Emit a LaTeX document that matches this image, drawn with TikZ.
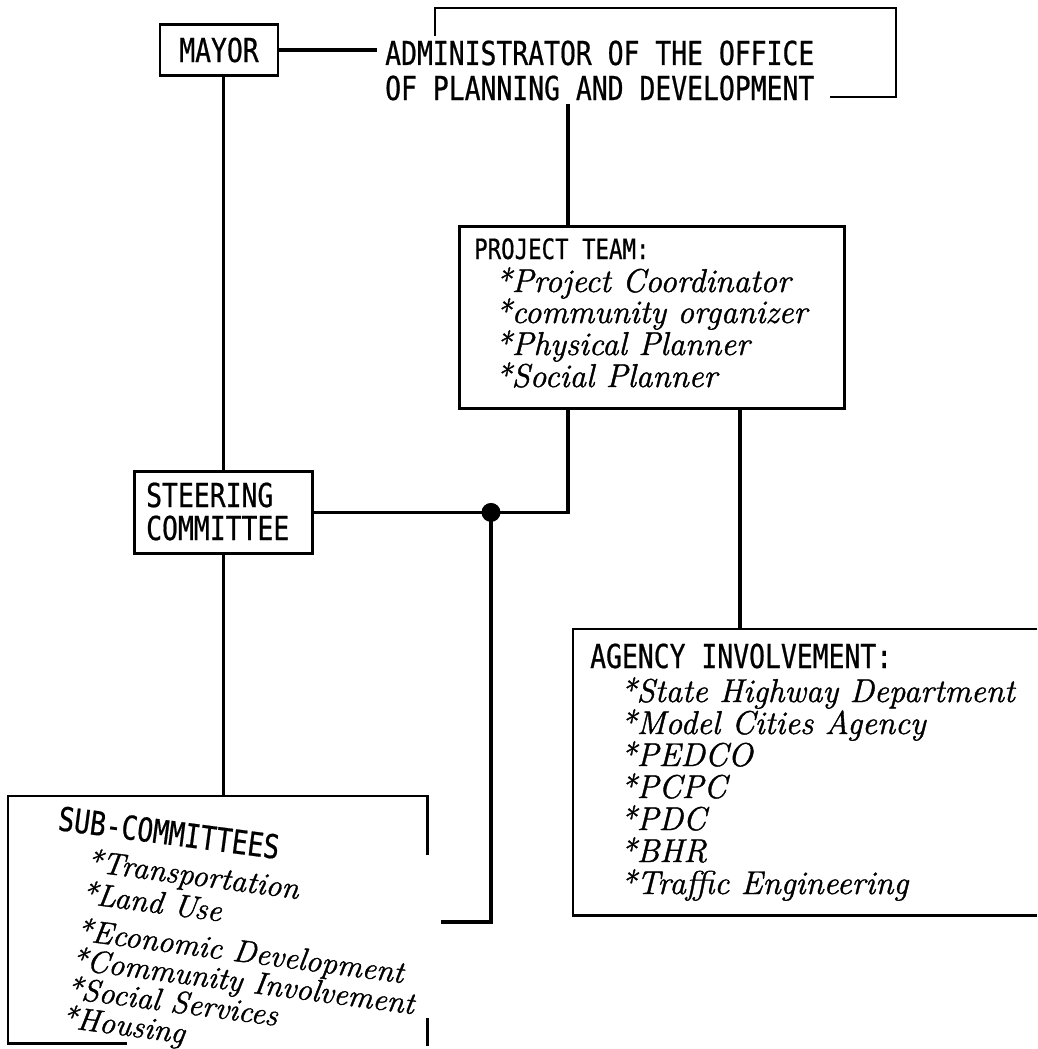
\documentclass[tikz,border=0pt]{standalone}
\usepackage{fontspec}
\newfontfamily\capf[FakeStretch=0.8,FakeBold=0.6]{DejaVu Sans Mono}
\newfontfamily\itf[FakeBold=1.2]{Latin Modern Roman}
\begin{document}
\begin{tikzpicture}[x=1pt,y=-1pt,
  boxn/.style={draw, line width=2.8pt, inner sep=0pt, anchor=north west, rectangle},
  frame/.style={draw=none, inner sep=0pt, anchor=north west, rectangle},
  boxline/.style={line width=2.8pt},
  caps/.style={font=\capf\fontsize{33}{36}\selectfont, inner sep=0pt, anchor=base west},
  capsm/.style={font=\capf\fontsize{28}{30}\selectfont, inner sep=0pt, anchor=base west},
  itm/.style={font=\itf\fontsize{33}{36}\selectfont\itshape, inner sep=0pt, anchor=base west},
  itms/.style={font=\itf\fontsize{31.5}{34}\selectfont\itshape, inner sep=0pt, anchor=base west},
  conn/.style={line width=3.2pt}]
\useasboundingbox (0,0) rectangle (1037,1049);

% MAYOR
\node[boxn, anchor=center, minimum width=118pt, minimum height=51pt,
      font=\capf\fontsize{33}{36}\selectfont] (mayor) at (219,50) {MAYOR};

% Administrator
\node[caps] (adm1) at (385,65) {ADMINISTRATOR OF THE OFFICE};
\node[caps] (adm2) at (385,100) {OF PLANNING AND DEVELOPMENT};
\draw[boxline] (435,36) -- (435,8) -- (896,8) -- (896,97) -- (830,97);

% Project team
\node[boxn, minimum width=385pt, minimum height=182pt] (pt) at (458,225) {};
\node[capsm] (pth) at (474,259) {PROJECT TEAM:};
\node[itm] (pt1) at (495,292) {*Project Coordinator};
\node[itm] (pt2) at (495,323) {*community organizer};
\node[itm] (pt3) at (495,355) {*Physical Planner};
\node[itm] (pt4) at (495,387) {*Social Planner};

% Steering committee
\node[boxn, minimum width=178pt, minimum height=82pt] (steer) at (133,470) {};
\node[caps] (st1) at (146,507) {STEERING};
\node[caps] (st2) at (146,540) {COMMITTEE};

% Agency involvement (open at right)
\node[frame, minimum width=464pt, minimum height=286pt] (agency) at (573,629) {};
\draw[boxline] (agency.north east) -- (agency.north west) -- (agency.south west) -- (agency.south east);
\node[caps] (agh) at (590,668) {AGENCY INVOLVEMENT:};
\node[itm] (ag1) at (620,702) {*State Highway Department};
\node[itm] (ag2) at (620,734) {*Model Cities Agency};
\node[itm] (ag3) at (620,766) {*PEDCO};
\node[itm] (ag4) at (620,798) {*PCPC};
\node[itm] (ag5) at (620,830) {*PDC};
\node[itm] (ag6) at (620,862) {*BHR};
\node[itm] (ag7) at (620,894) {*Traffic Engineering};

% Sub-committees (partly open frame)
\node[frame, minimum width=419pt, minimum height=247pt] (sub) at (8,796) {};
\draw[boxline] (sub.north east) ++(0,59) -- (sub.north east) -- (sub.north west) -- (sub.south west) -- ++(119,0);
\draw[boxline] (sub.south east) ++(0,-25) -- ++(0,28);
\node[caps, rotate=-7.5] (s0) at (57,830) {SUB-COMMITTEES};
\node[itms, rotate=-7.5] (s1) at (85,871) {*Transportation};
\node[itms, rotate=-7.5] (s2) at (80,903) {*Land Use};
\node[itms, rotate=-7.5] (s3) at (75,940) {*Economic Development};
\node[itms, rotate=-7.5] (s4) at (70,969) {*Community Involvement};
\node[itms, rotate=-7.5] (s5) at (65,998) {*Social Services};
\node[itms, rotate=-7.5] (s6) at (60,1027) {*Housing};

% connectors
\coordinate (ptx) at (568,0);
\coordinate (dotx) at (491,0);
\coordinate (agx) at (740,0);
\coordinate (subend) at (441,922);
\draw[conn, shorten >=8pt] (mayor.east) -- (mayor.east -| adm1.west);
\draw[conn, shorten <=3pt] (ptx |- adm2.south) -- (ptx |- pt.north);
\draw[conn] (mayor.south -| steer.north) -- (steer.north);
\draw[conn] (steer.east) -- (steer.east -| ptx) -- (ptx |- pt.south);
\fill (dotx |- steer.east) circle (9.5pt);
\draw[conn] (dotx |- steer.east) -- (dotx |- subend) -- (subend);
\draw[conn] (agx |- pt.south) -- (agx |- agency.north);
\draw[conn] (steer.south) -- (steer.south |- sub.north);
\end{tikzpicture}
\end{document}
